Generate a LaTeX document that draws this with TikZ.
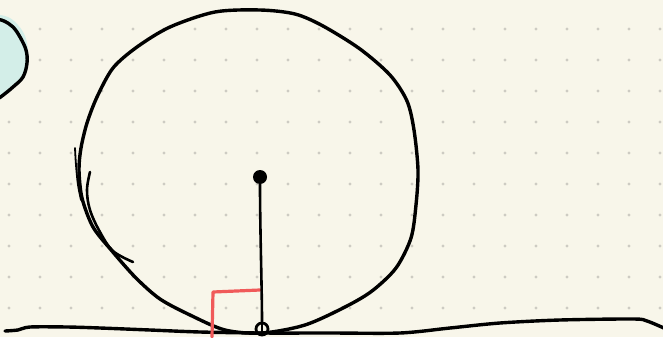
\documentclass[tikz,border=0pt]{standalone}
\begin{document}
\begin{tikzpicture}[x=1pt,y=-1pt,
  ink/.style={draw=black,line width=3.4pt,line cap=round,line join=round},
  thinink/.style={draw=black,line width=2.6pt,line cap=round,line join=round},
  redmark/.style={draw=redline,line width=3.2pt,line cap=round,line join=round},
  griddot/.style={fill=dotgray,draw=none},
  pivot/.style={circle,fill=black,inner sep=0pt,minimum size=14pt},
  contact/.style={circle,draw=black,line width=2.8pt,inner sep=0pt,minimum size=12pt}]
\definecolor{bg}{HTML}{F8F6EA}
\definecolor{dotgray}{HTML}{CDCBC3}
\definecolor{teal}{HTML}{D3EEE8}
\definecolor{redline}{HTML}{F05A5A}
\useasboundingbox (0,0) rectangle (663,337);
\fill[bg] (0,0) rectangle (663,337);
% dot grid
\foreach \i in {0,...,21}{
  \foreach \j in {0,...,9}{
    \fill[griddot] ({9+31*\i},{29+31*\j}) circle (1.7pt);
  }
}
% teal blob
\fill[teal] plot[smooth,tension=0.6] coordinates {(-6,14) (8,17) (18,25) (25,36) (28,50) (27,63) (23,77) (13,87) (0,97) (-6,101)} -- cycle;
\draw[ink] plot[smooth,tension=0.6] coordinates {(-4,19) (4,21) (13,27) (20,37) (26,50) (27,63) (23,77) (13,87) (2,96) (-4,100)};
% ground line
\draw[ink] plot[smooth,tension=0.5] coordinates {(5,331) (18,330) (30,327) (67,327) (100,328) (150,330) (200,332) (260,333) (330,333) (400,333) (450,328) (500,323) (560,320) (633,319) (647,321) (666,329)};
% wheel
\draw[ink] plot[smooth cycle,tension=0.5] coordinates {
(215,12) (260,10) (295,14) (323,26) (360,49) (390,75) (407,101) (414,130) (418,170)
(416,205) (411,238) (396,268) (372,291) (345,307) (305,325) (262,333)
(225,330) (190,315) (160,299) (136,278) (112,251) (93,227) (82,198) (79,170)
(81,148) (87,123) (97,97) (113,68) (137,47) (170,27)};
\draw[draw=black,line width=1.8pt,line cap=round] plot[smooth,tension=0.6] coordinates {(75,148) (76,165) (78,185) (81,200)};
\draw[thinink] plot[smooth,tension=0.6] coordinates {(90,172) (87,190) (90,210) (100,232) (113,251) (133,262)};
% red right angle
\draw[redmark] (212,337) -- (213,292) -- (260,290);
% centre and contact point
\node[pivot] (c) at (260,177) {};
\node[contact] (p) at (262,329) {};
\draw[thinink] (c.south) .. controls (260,230) and (262,290) .. (p.north);
\draw[draw=black,line width=2pt] (p.north) -- (p.south);
\end{tikzpicture}
\end{document}
